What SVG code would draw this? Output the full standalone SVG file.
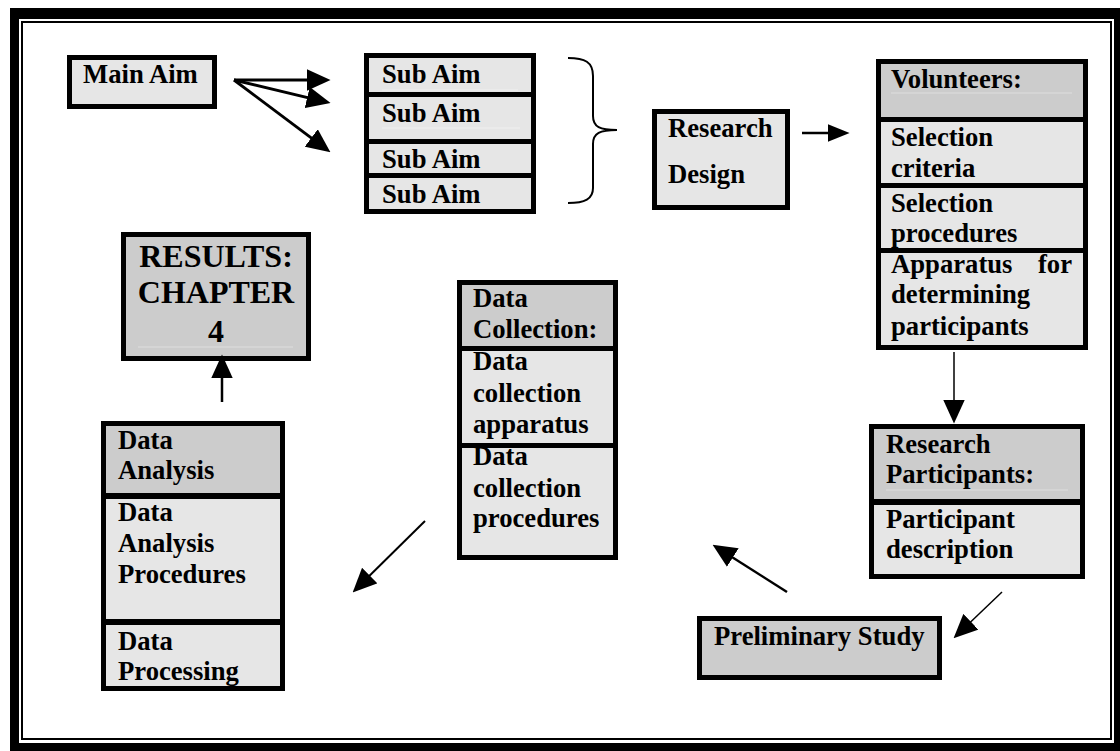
<svg xmlns="http://www.w3.org/2000/svg" width="1120" height="751" viewBox="0 0 1120 751">
<style>
  .t{font-family:"Liberation Serif","Times New Roman",serif;font-weight:bold;font-size:26.67px;fill:#000}
  .big{font-size:32px}
  .lt{fill:#e6e6e6}
  .dk{fill:#cccccc}
  .bx{fill:none;stroke:#000;stroke-width:5}
  .sep{fill:#000}
  .faint{stroke:#f0f0f0;stroke-width:1}
  .faint2{stroke:#dedede;stroke-width:1}
  .c{fill:none;stroke:#000}
</style>
<defs>
  <marker id="ah" markerUnits="userSpaceOnUse" markerWidth="24" markerHeight="22" viewBox="0 0 22 20" refX="16" refY="10" orient="auto">
    <path d="M0,0 L22,10 L0,20 z" fill="#000"/>
  </marker>
  <marker id="ahs" markerUnits="userSpaceOnUse" markerWidth="22" markerHeight="18" viewBox="0 0 20 16" refX="14" refY="8" orient="auto">
    <path d="M0,0 L20,8 L0,16 z" fill="#000"/>
  </marker>
</defs>
<rect width="1120" height="751" fill="#fff"/>
<g id="frame">
  <rect x="10" y="8" width="9" height="743" fill="#000"/>
  <rect x="10" y="8" width="1110" height="11" fill="#000"/>
  <rect x="1114" y="8" width="6" height="743" fill="#000"/>
  <rect x="10" y="743" width="1110" height="8" fill="#000"/>
  <rect x="22" y="22" width="1089" height="717" fill="none" stroke="#000" stroke-width="2"/>
</g>
<g id="main-aim">
  <rect x="69.5" y="57.5" width="145" height="49" class="lt"/>
  <rect x="69.5" y="57.5" width="145" height="49" class="bx"/>
  <text x="83" y="83" class="t">Main Aim</text>
</g>
<g id="sub-aims">
  <rect x="366.5" y="55.5" width="167" height="156" class="lt"/>
  <line x1="382" y1="90" x2="518" y2="90" class="faint"/>
  <line x1="382" y1="128" x2="520" y2="128" class="faint"/>
  <rect x="364" y="92" width="172" height="5" class="sep"/>
  <rect x="364" y="139" width="172" height="5" class="sep"/>
  <rect x="364" y="173" width="172" height="5" class="sep"/>
  <rect x="366.5" y="55.5" width="167" height="156" class="bx"/>
  <text x="382" y="83" class="t">Sub Aim</text>
  <text x="382" y="122" class="t">Sub Aim</text>
  <text x="382" y="168" class="t">Sub Aim</text>
  <text x="382" y="203" class="t">Sub Aim</text>
</g>
<g id="brace">
  <path d="M568,58 C585,58 593,62 593,76 L593,116 C593,127 600,130 617,130 C600,130 593,133 593,144 L593,188 C593,199 585,203 568,203" fill="none" stroke="#000" stroke-width="2"/>
</g>
<g id="research-design">
  <rect x="654.5" y="111.5" width="133" height="96" class="lt"/>
  <rect x="654.5" y="111.5" width="133" height="96" class="bx"/>
  <text x="668" y="137" class="t">Research</text>
  <text x="668" y="183" class="t">Design</text>
</g>
<g id="volunteers">
  <rect x="878.5" y="61.5" width="207" height="286" class="lt"/>
  <rect x="878.5" y="61.5" width="207" height="56" class="dk"/>
  <line x1="891" y1="93" x2="1072" y2="93" class="faint2"/>
  <rect x="876" y="117" width="212" height="5" class="sep"/>
  <rect x="876" y="183" width="212" height="5" class="sep"/>
  <rect x="876" y="248" width="212" height="5" class="sep"/>
  <rect x="878.5" y="61.5" width="207" height="286" class="bx"/>
  <text x="891" y="88" class="t">Volunteers:</text>
  <text x="891" y="146" class="t">Selection</text>
  <text x="891" y="177" class="t">criteria</text>
  <text x="891" y="212" class="t">Selection</text>
  <text x="891" y="242" class="t">procedures</text>
  <text x="891" y="273" class="t">Apparatus</text>
  <text x="1072" y="273" class="t" text-anchor="end">for</text>
  <text x="891" y="303" class="t">determining</text>
  <text x="891" y="335" class="t">participants</text>
</g>
<g id="research-participants">
  <rect x="871.5" y="426.5" width="211" height="150" class="lt"/>
  <rect x="871.5" y="426.5" width="211" height="73" class="dk"/>
  <line x1="886" y1="490" x2="1068" y2="490" class="faint2"/>
  <rect x="869" y="499" width="216" height="6" class="sep"/>
  <rect x="871.5" y="426.5" width="211" height="150" class="bx"/>
  <text x="886" y="453" class="t">Research</text>
  <text x="886" y="483" class="t">Participants:</text>
  <text x="886" y="528" class="t">Participant</text>
  <text x="886" y="558" class="t">description</text>
</g>
<g id="preliminary-study">
  <rect x="699.5" y="618.5" width="240" height="59" class="dk"/>
  <rect x="699.5" y="618.5" width="240" height="59" class="bx"/>
  <text x="714" y="645" class="t">Preliminary Study</text>
</g>
<g id="data-collection">
  <rect x="459.5" y="282.5" width="156" height="275" class="lt"/>
  <rect x="459.5" y="282.5" width="156" height="64" class="dk"/>
  <rect x="457" y="346" width="161" height="5" class="sep"/>
  <rect x="457" y="443" width="161" height="5" class="sep"/>
  <rect x="459.5" y="282.5" width="156" height="275" class="bx"/>
  <text x="473" y="307" class="t">Data</text>
  <text x="473" y="338" class="t">Collection:</text>
  <text x="473" y="370" class="t">Data</text>
  <text x="473" y="402" class="t">collection</text>
  <text x="473" y="433" class="t">apparatus</text>
  <text x="473" y="465" class="t">Data</text>
  <text x="473" y="497" class="t">collection</text>
  <text x="473" y="527" class="t">procedures</text>
</g>
<g id="results">
  <rect x="123.5" y="234.5" width="185" height="124" class="dk"/>
  <line x1="138" y1="347" x2="293" y2="347" class="faint2"/>
  <rect x="123.5" y="234.5" width="185" height="124" class="bx"/>
  <text x="216" y="267" class="t big" text-anchor="middle">RESULTS:</text>
  <text x="216" y="303" class="t big" text-anchor="middle">CHAPTER</text>
  <text x="216" y="342" class="t big" text-anchor="middle">4</text>
</g>
<g id="data-analysis">
  <rect x="103.5" y="423.5" width="179" height="265" class="lt"/>
  <rect x="103.5" y="423.5" width="179" height="70" class="dk"/>
  <rect x="101" y="493" width="184" height="6" class="sep"/>
  <rect x="101" y="619" width="184" height="6" class="sep"/>
  <rect x="103.5" y="423.5" width="179" height="265" class="bx"/>
  <text x="118" y="449" class="t">Data</text>
  <text x="118" y="479" class="t">Analysis</text>
  <text x="118" y="521" class="t">Data</text>
  <text x="118" y="552" class="t">Analysis</text>
  <text x="118" y="583" class="t">Procedures</text>
  <text x="118" y="650" class="t">Data</text>
  <text x="118" y="680" class="t">Processing</text>
</g>
<g id="connectors">
  <line x1="234" y1="80" x2="324" y2="80" class="c" stroke-width="3" marker-end="url(#ah)"/>
  <line x1="234" y1="80" x2="324.2" y2="101.6" class="c" stroke-width="3" marker-end="url(#ah)"/>
  <line x1="234" y1="80" x2="325.2" y2="148.4" class="c" stroke-width="3" marker-end="url(#ah)"/>
  <line x1="802" y1="133" x2="843" y2="133" class="c" stroke-width="2.5" marker-end="url(#ahs)"/>
  <line x1="954" y1="352" x2="954" y2="417" class="c" stroke-width="1.5" marker-end="url(#ah)"/>
  <line x1="1002" y1="592" x2="958.3" y2="633.8" class="c" stroke-width="1.5" marker-end="url(#ah)"/>
  <line x1="787" y1="592" x2="718.1" y2="548.2" class="c" stroke-width="2.5" marker-end="url(#ah)"/>
  <line x1="425" y1="521" x2="357.3" y2="587.8" class="c" stroke-width="2" marker-end="url(#ah)"/>
  <line x1="222" y1="402" x2="222" y2="361" class="c" stroke-width="2.5" marker-end="url(#ah)"/>
</g>
</svg>
